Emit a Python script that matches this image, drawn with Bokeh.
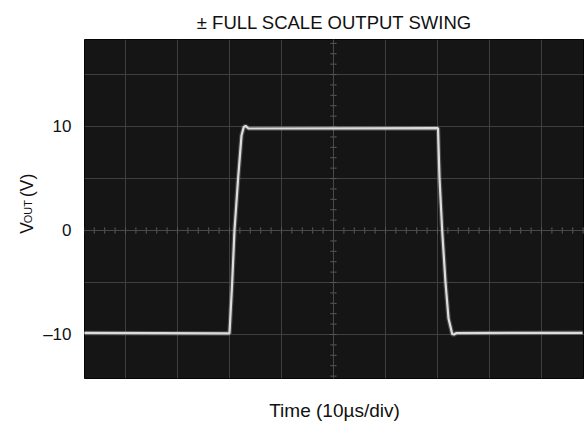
import numpy as np
from bokeh.plotting import figure
from bokeh.layouts import row
from bokeh.models import FixedTicker, Range1d, Label
from bokeh.embed import file_html
from bokeh.resources import INLINE

# ---- data ----
t_us = [0.0, 30.0, 30.52, 30.96, 31.67, 32.31, 32.75, 33.08, 33.65,
        70.1, 70.38, 70.9, 71.54, 72.12, 72.83, 73.17, 73.65, 97.9]
v_out = [-9.84, -9.9, -5.0, 0.0, 5.1, 9.13, 9.95, 10.06, 9.81,
         9.84, 5.1, 0.0, -5.0, -8.46, -9.95, -10.0, -9.86, -9.84]

y_ticks = [-10, 0, 10]
y_tick_labels = {-10: "\u201310", 0: "0", 10: "10"}

x_div = list(range(0, 101, 10))      # 10 µs / div graticule
y_div = list(range(-15, 16, 5))      # 5 V / div graticule

FONT = "Liberation Sans"
LW = 40   # width of the strip that carries the y-axis title

# ---- strip with the rotated y-axis title V_OUT (V) ----
lab = figure(width=LW, height=426, output_backend="svg", toolbar_location=None,
             x_range=Range1d(0, LW), y_range=Range1d(0, 426),
             min_border=0, min_border_left=0, min_border_right=0,
             min_border_top=0, min_border_bottom=0,
             x_axis_location=None, y_axis_location=None,
             background_fill_color="white", border_fill_color="white",
             outline_line_color=None)
lab.grid.visible = False
common = dict(angle=np.pi / 2, text_font=FONT, text_color="#111111",
              text_align="left", text_baseline="alphabetic")
lab.add_layout(Label(x=26, y=426 - 244, text="V", text_font_size="17.5px", **common))
lab.add_layout(Label(x=27, y=426 - 231, text="OUT", text_font_size="11px", **common))
lab.add_layout(Label(x=26, y=426 - 198, text="(V)", text_font_size="17.5px", **common))

# ---- main oscilloscope plot ----
p = figure(width=584 - LW, height=426, output_backend="svg", toolbar_location=None,
           x_range=Range1d(2.12, 98.27), y_range=Range1d(-14.23, 18.37),
           min_border_left=84 - LW, min_border_right=0, min_border_top=39,
           min_border_bottom=48, background_fill_color="#151515",
           border_fill_color="white")

p.title.text = "\u00b1 FULL SCALE OUTPUT SWING"
p.title.align = "center"
p.title.text_font = FONT
p.title.text_font_size = "18.5px"
p.title.text_font_style = "normal"
p.title.text_color = "#111111"
p.title.standoff = 14

p.outline_line_color = "#050505"

# grids = scope graticule
p.xgrid.ticker = FixedTicker(ticks=x_div)
p.ygrid.ticker = FixedTicker(ticks=y_div)
for g in (p.xgrid, p.ygrid):
    g.grid_line_color = "#3f3f3f"
    g.grid_line_width = 1

# x axis: only the label
p.xaxis.ticker = FixedTicker(ticks=[])
p.xaxis.axis_line_color = None
p.xaxis.major_tick_line_color = None
p.xaxis.minor_tick_line_color = None
p.xaxis.axis_label = "Time (10\u00b5s/div)"
p.xaxis.axis_label_text_font = FONT
p.xaxis.axis_label_text_font_size = "19px"
p.xaxis.axis_label_text_font_style = "normal"
p.xaxis.axis_label_text_color = "#111111"
p.xaxis.axis_label_standoff = 21

# y axis: tick labels only
p.yaxis.ticker = FixedTicker(ticks=y_ticks)
p.yaxis.major_label_overrides = y_tick_labels
p.yaxis.axis_line_color = None
p.yaxis.major_tick_line_color = None
p.yaxis.minor_tick_line_color = None
p.yaxis.major_tick_out = 0
p.yaxis.major_tick_in = 0
p.yaxis.minor_tick_out = 0
p.yaxis.minor_tick_in = 0
p.yaxis.major_label_standoff = 13
p.yaxis.major_label_text_font = FONT
p.yaxis.major_label_text_font_size = "17px"
p.yaxis.major_label_text_color = "#111111"

# center-line graticule ticks (1/5 division)
xc = 50.0
yc = 0.0
tx = np.arange(0, 100.01, 2.0)
p.segment(x0=tx, y0=yc - 0.3, x1=tx, y1=yc + 0.3, line_color="#5a5a5a", line_width=1)
ty = np.arange(-20, 20.01, 1.0)
p.segment(x0=xc - 0.6, y0=ty, x1=xc + 0.6, y1=ty, line_color="#5a5a5a", line_width=1)
p.line(x=[xc, xc], y=[-20, 25], line_color="#4a4a4a", line_width=1)
p.line(x=[-5, 105], y=[yc, yc], line_color="#4a4a4a", line_width=1)

# trace (glow + core)
p.line(t_us, v_out, line_color="#bdbdbd", line_width=4.5, line_alpha=0.3)
p.line(t_us, v_out, line_color="#dcdcdc", line_width=2.2)

layout = row(lab, p, spacing=0)
open("out.html", "w").write(file_html(layout, INLINE))
